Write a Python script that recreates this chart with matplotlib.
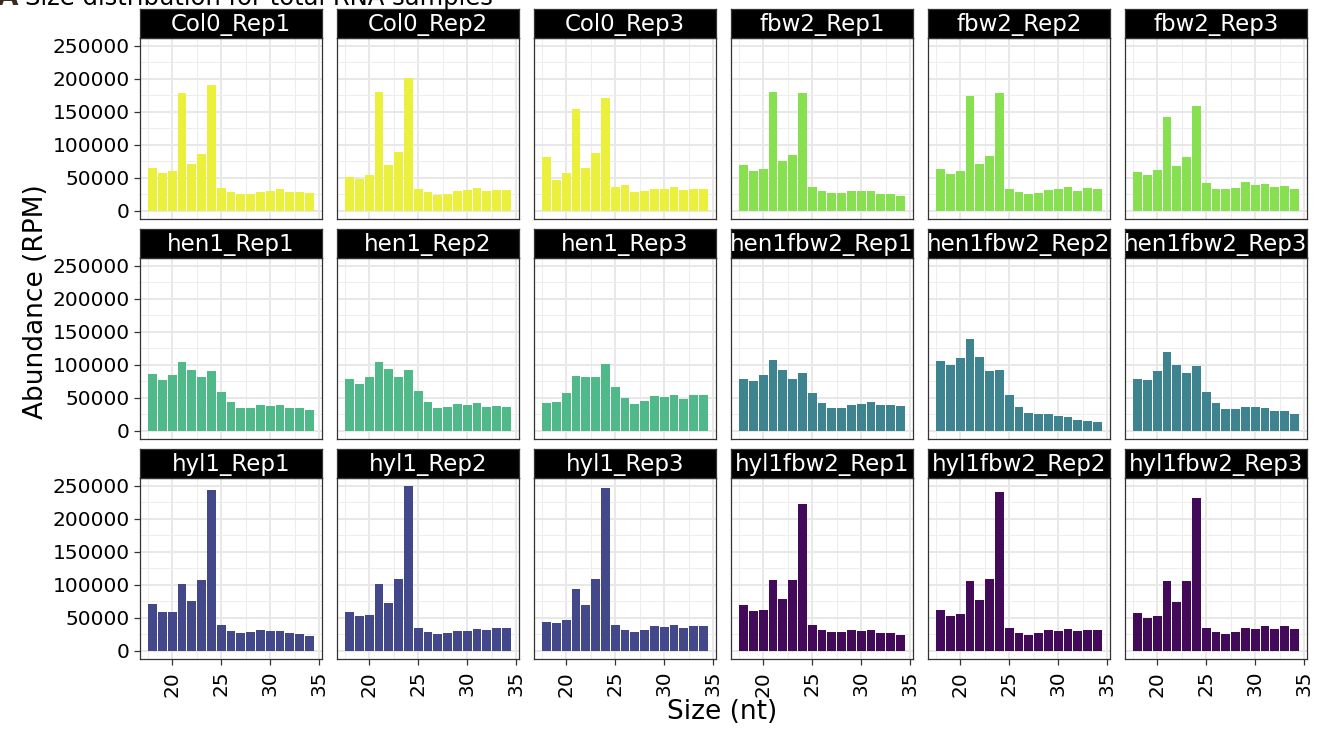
import matplotlib.pyplot as plt
import numpy as np
from matplotlib.ticker import MultipleLocator

# read sizes 18..34 nt
sizes = list(range(18, 35))

col0_rep1 = [64600, 56600, 60100, 178800, 70200, 86400, 190400, 34300, 28300, 25300, 25300, 28800, 30300, 32800, 27800, 27800, 26300]
col0_rep2 = [51500, 47500, 55000, 180300, 68700, 89400, 202000, 33300, 27800, 24200, 25300, 29300, 31300, 34800, 30300, 30800, 30800]
col0_rep3 = [81800, 46000, 56600, 154500, 65100, 87900, 170700, 35900, 38900, 28300, 29300, 33300, 33300, 35400, 30800, 33300, 33300]
fbw2_rep1 = [68700, 59600, 63600, 180800, 75200, 84800, 178800, 35400, 29300, 26300, 26300, 29800, 29800, 30300, 25300, 25800, 22700]
fbw2_rep2 = [62600, 55600, 60600, 174700, 70200, 83300, 178800, 32800, 27800, 24700, 26300, 31800, 32300, 35900, 30300, 33800, 32300]
fbw2_rep3 = [58600, 55000, 61100, 142400, 68200, 81800, 158600, 41400, 33300, 32300, 34300, 42900, 38900, 40400, 35400, 37900, 32300]

hen1_rep1 = [86400, 76800, 84300, 104500, 92400, 81800, 90400, 58600, 43400, 34800, 34800, 38400, 37900, 39400, 33800, 33800, 31300]
hen1_rep2 = [77800, 71200, 81800, 104500, 93400, 81800, 91900, 59600, 43400, 33800, 35400, 39900, 39400, 41400, 35400, 37900, 36400]
hen1_rep3 = [41900, 42900, 57100, 83800, 81300, 81300, 100500, 66200, 50000, 40400, 44400, 52500, 51500, 55000, 48000, 53500, 55000]
hen1fbw2_rep1 = [78300, 75800, 84300, 106600, 91900, 78800, 86900, 57100, 41400, 34300, 34300, 38400, 40900, 42900, 38400, 39400, 36900]
hen1fbw2_rep2 = [106100, 100000, 110600, 139900, 112600, 90900, 92900, 55000, 35900, 26300, 24700, 24700, 22200, 21200, 16200, 15200, 13100]
hen1fbw2_rep3 = [78300, 77300, 89900, 119200, 100000, 87900, 97500, 59100, 41400, 32300, 32800, 35400, 35400, 34800, 29300, 29300, 25800]

hyl1_rep1 = [70400, 59300, 58300, 101600, 74900, 107600, 243900, 38700, 30700, 27700, 28200, 31700, 30700, 30700, 26200, 25700, 22600]
hyl1_rep2 = [58800, 52300, 54300, 101100, 72400, 109200, 249500, 35200, 28200, 24700, 26700, 30700, 30200, 33700, 31200, 35200, 35200]
hyl1_rep3 = [43800, 41800, 47300, 93100, 69400, 109200, 247500, 38700, 31200, 28200, 32200, 37700, 35700, 38700, 34700, 37700, 37700]
hyl1fbw2_rep1 = [69900, 59900, 62400, 106600, 79000, 106600, 222800, 39700, 31700, 28200, 29200, 32200, 30700, 31200, 26700, 26200, 23600]
hyl1fbw2_rep2 = [62400, 53300, 55300, 105600, 76500, 108700, 240400, 35200, 27700, 24100, 27200, 31200, 30200, 33700, 29700, 32200, 32200]
hyl1fbw2_rep3 = [57800, 50300, 52800, 105600, 73400, 105600, 230900, 35200, 28200, 25200, 29200, 34700, 33700, 37200, 33200, 37200, 33700]

geno_colors = {
    'Col0': '#EAF03C',
    'fbw2': '#86E050',
    'hen1': '#50B98A',
    'hen1fbw2': '#3D8490',
    'hyl1': '#424889',
    'hyl1fbw2': '#440A5A',
}

panels = [
    ('Col0_Rep1', 'Col0', col0_rep1), ('Col0_Rep2', 'Col0', col0_rep2), ('Col0_Rep3', 'Col0', col0_rep3),
    ('fbw2_Rep1', 'fbw2', fbw2_rep1), ('fbw2_Rep2', 'fbw2', fbw2_rep2), ('fbw2_Rep3', 'fbw2', fbw2_rep3),
    ('hen1_Rep1', 'hen1', hen1_rep1), ('hen1_Rep2', 'hen1', hen1_rep2), ('hen1_Rep3', 'hen1', hen1_rep3),
    ('hen1fbw2_Rep1', 'hen1fbw2', hen1fbw2_rep1), ('hen1fbw2_Rep2', 'hen1fbw2', hen1fbw2_rep2), ('hen1fbw2_Rep3', 'hen1fbw2', hen1fbw2_rep3),
    ('hyl1_Rep1', 'hyl1', hyl1_rep1), ('hyl1_Rep2', 'hyl1', hyl1_rep2), ('hyl1_Rep3', 'hyl1', hyl1_rep3),
    ('hyl1fbw2_Rep1', 'hyl1fbw2', hyl1fbw2_rep1), ('hyl1fbw2_Rep2', 'hyl1fbw2', hyl1fbw2_rep2), ('hyl1fbw2_Rep3', 'hyl1fbw2', hyl1fbw2_rep3),
]

W, H = 1325, 729
fig = plt.figure(figsize=(W / 100, H / 100), dpi=100)

# layout in pixels
left0, dx, pw = 140, 197, 182
top0, dy, ph = 38, 220, 181
strip_h = 29

ymax = max(max(p[2]) for p in panels)
ylo, yhi = -0.05 * ymax, 1.05 * ymax
xlo, xhi = 17.55 - 0.05 * 16.9, 34.45 + 0.05 * 16.9

for i, (name, geno, vals) in enumerate(panels):
    r, c = divmod(i, 6)
    l = (left0 + c * dx) / W
    b = 1 - (top0 + r * dy + ph) / H
    ax = fig.add_axes([l, b, pw / W, ph / H])
    ax.bar(sizes, vals, width=0.9, color=geno_colors[geno], zorder=3)
    ax.set_xlim(xlo, xhi)
    ax.set_ylim(ylo, yhi)
    ax.xaxis.set_major_locator(MultipleLocator(5))
    ax.xaxis.set_minor_locator(MultipleLocator(2.5))
    ax.yaxis.set_major_locator(MultipleLocator(50000))
    ax.yaxis.set_minor_locator(MultipleLocator(25000))
    ax.grid(which='major', color='#E8E8E8', linewidth=1.4, zorder=0)
    ax.grid(which='minor', color='#EDEDED', linewidth=0.7, zorder=0)
    ax.set_axisbelow(True)
    for s in ax.spines.values():
        s.set_color('#333333')
        s.set_linewidth(0.9)
    ax.tick_params(which='minor', length=0)
    ax.tick_params(which='major', length=4.5, width=0.9, color='#333333', labelsize=14.5, pad=3)
    if c == 0:
        ax.set_yticks(np.arange(0, 250001, 50000))
        ax.set_yticklabels([str(v) for v in range(0, 250001, 50000)])
    else:
        ax.tick_params(axis='y', which='both', left=False, labelleft=False)
    if r == 2:
        ax.set_xticks([20, 25, 30, 35])
        ax.tick_params(axis='x', labelrotation=90, pad=4)
    else:
        ax.tick_params(axis='x', which='both', bottom=False, labelbottom=False)

    sax = fig.add_axes([l, b + ph / H, pw / W, strip_h / H])
    sax.set_facecolor('black')
    sax.set_xticks([])
    sax.set_yticks([])
    for s in sax.spines.values():
        s.set_color('#333333')
        s.set_linewidth(0.9)
    sax.text(0.5, 0.45, name, color='white', fontsize=16.5, ha='center', va='center',
             transform=sax.transAxes, clip_on=True)

fig.text(0.017, 1 - 302 / H, 'Abundance (RPM)', rotation=90, fontsize=19, ha='left', va='center')
fig.text(0.545, 0.005, 'Size (nt)', fontsize=19, ha='center', va='bottom')

# title is cut off at the top edge in the reference
fig.text(-0.002, 1 - 5 / H, 'A', fontsize=20, fontweight='bold', color='#3b2a20', ha='left', va='baseline')
fig.text(0.019, 1 - 5 / H, 'Size distribution for total RNA samples', fontsize=17.5, ha='left', va='baseline')

fig.savefig('out.png', dpi=100)
